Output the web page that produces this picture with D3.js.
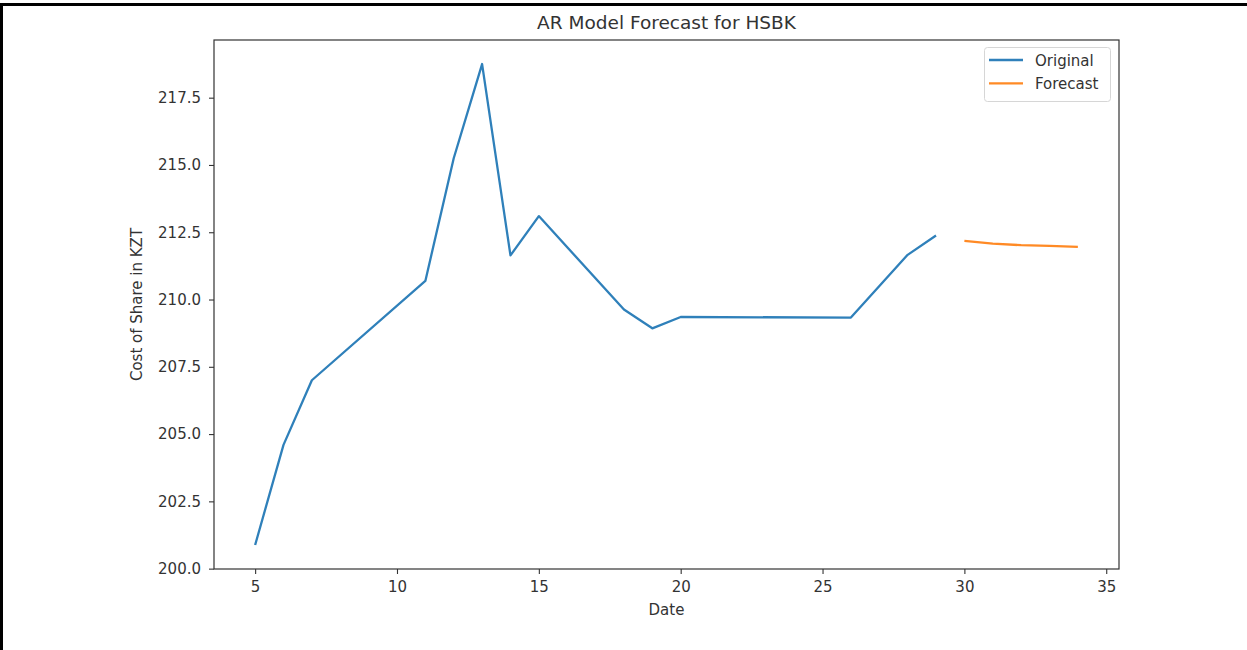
<!DOCTYPE html>
<html>
<head>
<meta charset="utf-8">
<script src="https://cdn.jsdelivr.net/npm/d3@7.9.0/dist/d3.min.js"></script>
<style>
  body { margin: 0; background: #fff; }
  svg { display: block; font-family: "DejaVu Sans", sans-serif; }
</style>
</head>
<body>
<div id="chart"></div>
<script>
// values
const originalDays = [5, 6, 7, 11, 12, 13, 14, 15, 18, 19, 20, 26, 28, 29];
const originalPrices = [200.88, 204.6, 207.0, 210.69, 215.25, 218.75, 211.64, 213.1, 209.63, 208.93, 209.35, 209.33, 211.66, 212.38];
const forecastDays = [30, 31, 32, 33, 34];
const forecastPrices = [212.18, 212.08, 212.02, 211.99, 211.96];
const xTicks = [5, 10, 15, 20, 25, 30, 35];
const yTicks = [200.0, 202.5, 205.0, 207.5, 210.0, 212.5, 215.0, 217.5];

const width = 1247;
const height = 650;

const original = originalDays.map((d, i) => ({ x: d, y: originalPrices[i] }));
const forecast = forecastDays.map((d, i) => ({ x: d, y: forecastPrices[i] }));

const margin = { top: 40, right: 128, bottom: 81, left: 214 };
const plot = {
    left: margin.left,
    right: width - margin.right,
    top: margin.top,
    bottom: height - margin.bottom,
};

const svg = d3.select('#chart')
    .append('svg')
    .attr('width', width)
    .attr('height', height);

// outer frame of the screenshot (top and left edges visible)
svg.append('path')
    .attr('d', `M1.5,${height} L1.5,4.5 L${width},4.5`)
    .attr('fill', 'none')
    .attr('stroke', '#000')
    .attr('stroke-width', 3);

// matplotlib-like 5% margins
const all = original.concat(forecast);
const [xMin, xMax] = d3.extent(all, d => d.x);
const [yMin, yMax] = d3.extent(all, d => d.y);
const xPad = (xMax - xMin) * 0.05;
const yPad = (yMax - yMin) * 0.05;

const xScale = d3.scaleLinear()
    .domain([xMin - xPad, xMax + xPad])
    .range([plot.left, plot.right]);

const yScale = d3.scaleLinear()
    .domain([yMin - yPad, yMax + yPad])
    .range([plot.bottom, plot.top]);

const textColor = '#333';

// axes
const xAxis = svg.append('g')
    .attr('transform', `translate(0, ${plot.bottom})`)
    .call(d3.axisBottom(xScale).tickValues(xTicks).tickFormat(d3.format('d')).tickSize(5).tickPadding(7));

const yAxis = svg.append('g')
    .attr('transform', `translate(${plot.left}, 0)`)
    .call(d3.axisLeft(yScale).tickValues(yTicks).tickFormat(d3.format('.1f')).tickSize(5).tickPadding(8));

[xAxis, yAxis].forEach(ax => {
    ax.select('.domain').remove();
    ax.selectAll('.tick line').attr('stroke', '#333').attr('stroke-width', 1.1);
    ax.selectAll('.tick text')
        .attr('fill', textColor)
        .style('font-size', '15px')
        .style('font-family', '"DejaVu Sans", sans-serif');
});

// spines
svg.append('rect')
    .attr('x', plot.left)
    .attr('y', plot.top)
    .attr('width', plot.right - plot.left)
    .attr('height', plot.bottom - plot.top)
    .attr('fill', 'none')
    .attr('stroke', '#333')
    .attr('stroke-width', 1.2);

const line = d3.line()
    .x(d => xScale(d.x))
    .y(d => yScale(d.y));

svg.append('path')
    .datum(original)
    .attr('d', line)
    .attr('fill', 'none')
    .attr('stroke', '#2f80ba')
    .attr('stroke-width', 2.3)
    .attr('stroke-linejoin', 'round');

svg.append('path')
    .datum(forecast)
    .attr('d', line)
    .attr('fill', 'none')
    .attr('stroke', '#ff8a25')
    .attr('stroke-width', 2.3)
    .attr('stroke-linejoin', 'round');

// title and axis labels
svg.append('text')
    .attr('x', (plot.left + plot.right) / 2)
    .attr('y', 29)
    .attr('text-anchor', 'middle')
    .attr('fill', textColor)
    .style('font-size', '18.5px')
    .text('AR Model Forecast for HSBK');

svg.append('text')
    .attr('x', (plot.left + plot.right) / 2)
    .attr('y', 615)
    .attr('text-anchor', 'middle')
    .attr('fill', textColor)
    .style('font-size', '15px')
    .text('Date');

svg.append('text')
    .attr('transform', `translate(142, ${(plot.top + plot.bottom) / 2}) rotate(-90)`)
    .attr('text-anchor', 'middle')
    .attr('fill', textColor)
    .style('font-size', '15px')
    .text('Cost of Share in KZT');

// legend
const legend = svg.append('g').attr('transform', 'translate(984, 47)');
legend.append('rect')
    .attr('x', 0.5)
    .attr('y', 0.5)
    .attr('width', 126)
    .attr('height', 54)
    .attr('rx', 3)
    .attr('fill', '#fff')
    .attr('fill-opacity', 0.8)
    .attr('stroke', '#d6d6d6');

const legendItems = [
    { label: 'Original', color: '#2f80ba' },
    { label: 'Forecast', color: '#ff8a25' },
];

legendItems.forEach((item, i) => {
    const yy = 13 + i * 23.3;
    legend.append('line')
        .attr('x1', 5).attr('x2', 39)
        .attr('y1', yy).attr('y2', yy)
        .attr('stroke', item.color)
        .attr('stroke-width', 2.3);
    legend.append('text')
        .attr('x', 51)
        .attr('y', yy + 5.5)
        .attr('fill', textColor)
        .style('font-size', '15px')
        .text(item.label);
});
</script>
</body>
</html>
